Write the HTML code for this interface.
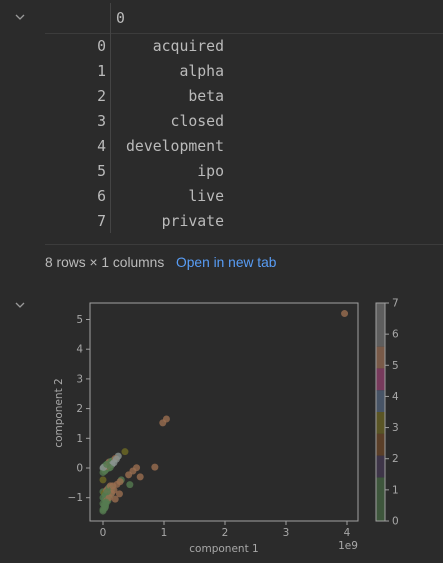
<!DOCTYPE html>
<html><head><meta charset="utf-8">
<style>
body{margin:0;background:#2b2b2b;width:443px;height:563px;overflow:hidden;font-family:"Liberation Sans",sans-serif;position:relative}
.mono{font-family:"DejaVu Sans Mono","Liberation Mono",monospace;font-size:14.8px;color:#bbbbbb;position:absolute}
.idx{right:337px;text-align:right}
.val{right:219px;text-align:right}
</style></head><body>
<svg style="position:absolute;left:14px;top:12px" width="12" height="10"><path d="M2 3 L6 7 L10 3" stroke="#9a9a9a" stroke-width="1.3" fill="none"/></svg>
<div style="position:absolute;left:45px;top:33px;width:398px;height:1px;background:#3c3c3c"></div>
<div style="position:absolute;left:110px;top:3px;width:1px;height:230px;background:#444"></div>
<div class="mono" style="left:116px;top:10px">0</div>
<div>
<div class="mono idx" style="top:38px">0</div><div class="mono val" style="top:38px">acquired</div>
<div class="mono idx" style="top:63px">1</div><div class="mono val" style="top:63px">alpha</div>
<div class="mono idx" style="top:88px">2</div><div class="mono val" style="top:88px">beta</div>
<div class="mono idx" style="top:113px">3</div><div class="mono val" style="top:113px">closed</div>
<div class="mono idx" style="top:138px">4</div><div class="mono val" style="top:138px">development</div>
<div class="mono idx" style="top:163px">5</div><div class="mono val" style="top:163px">ipo</div>
<div class="mono idx" style="top:188px">6</div><div class="mono val" style="top:188px">live</div>
<div class="mono idx" style="top:213px">7</div><div class="mono val" style="top:213px">private</div>
</div>
<div style="position:absolute;left:45px;top:244px;width:398px;height:1px;background:#3c3c3c"></div>
<div style="position:absolute;left:45px;top:255px;font-size:13.8px;color:#bbbbbb">8 rows × 1 columns</div>
<div style="position:absolute;left:176px;top:255px;font-size:13.8px;color:#589df6">Open in new tab</div>
<svg style="position:absolute;left:14px;top:300px" width="12" height="10"><path d="M2 3 L6 7 L10 3" stroke="#9a9a9a" stroke-width="1.3" fill="none"/></svg>
<svg id="chart" style="position:absolute;left:0;top:0" width="443" height="563"></svg>
<script>
const xs=[3.96,0.98,1.04,0.36,0.25,0.85,0.55,0.49,0.42,0.61,0.0,0.44,0.3,0.28,0.23,0.12,0.27,
0.0,0.02,0.05,0.08,0.1,0.13,0.16,0.2,0.05,0.1,0.15,0.0,0.03,0.07,0.12,0.18,0.22,0.01,0.06,
0.0,0.02,0.04,0.06,0.08,0.1,0.12,0.15,0.0,0.03,0.06,0.09,0.12,0.0,0.02,0.05,0.08,0.0,0.03,0.0,0.04,0.1,0.14,0.18,0.2,0.07,0.16,0.05];
const ys=[5.2,1.52,1.65,0.55,0.4,0.03,0.01,-0.1,-0.23,-0.3,-0.4,-0.56,-0.4,-0.46,-0.55,-0.68,-0.87,
0.0,0.05,0.1,0.15,0.2,0.22,0.25,0.32,-0.05,0.0,0.12,-0.15,-0.1,0.05,0.02,0.18,0.3,0.02,0.12,
-0.8,-0.85,-0.9,-0.75,-0.7,-0.65,-0.6,-0.7,-1.0,-1.05,-1.1,-0.95,-0.9,-1.2,-1.25,-1.2,-1.1,-1.4,-1.35,-1.45,-1.3,-1.0,-0.85,-0.75,-1.05,-0.8,-0.6,-1.15];
const cats=[5,5,5,3,7,5,5,5,5,5,3,0,0,5,5,5,5,
7,0,0,0,5,0,0,5,0,0,7,0,0,5,0,7,7,7,0,
0,3,0,5,5,0,5,0,0,0,5,0,0,0,0,0,0,0,0,0,0,5,5,5,5,0,5,0];
const xTicks=[0,1,2,3,4], yTicks=[-1,0,1,2,3,4,5], cbTicks=[0,1,2,3,4,5,6,7];
const cbBounds=[0,1.4,2.1,2.8,3.5,4.2,4.9,5.6,7];
const cbColors=['#3e563c','#3e3548','#5b3f28','#5a5525','#475466','#773a5c','#795a48','#5e5e5e'];
const ptColors={0:'#557a50',3:'#6e6a24',5:'#9a6e50',7:'#8a9490'};
const L=90,R=358,T=303,B=521;
const sx=v=>103+v*61, sy=v=>468-v*29.7;
const cbY=v=>B-(v/7)*(B-T);
const NS='http://www.w3.org/2000/svg', svg=document.getElementById('chart');
function mk(t,a){const e=document.createElementNS(NS,t);for(const k in a)e.setAttribute(k,a[k]);svg.appendChild(e);return e;}
for(let i=0;i<xs.length;i++){
 const c=mk('circle',{cx:sx(xs[i]),cy:sy(ys[i]),r:3.5,fill:ptColors[cats[i]],'fill-opacity':0.8});
 
 
}
const frame=mk('rect',{x:L,y:T,width:R-L,height:B-T,fill:'none',stroke:'#a0a0a0','stroke-width':1});


xTicks.forEach(v=>{
 mk('line',{x1:sx(v),x2:sx(v),y1:B,y2:B+4,stroke:'#a0a0a0'});
 const t=mk('text',{x:sx(v),y:B+15,'text-anchor':'middle','font-size':10.5,fill:'#a8a8a8','font-family':'DejaVu Sans, sans-serif'});
 t.textContent=v;
 
 
});
yTicks.forEach(v=>{
 mk('line',{x1:L-4,x2:L,y1:sy(v),y2:sy(v),stroke:'#a0a0a0'});
 const t=mk('text',{x:L-7,y:sy(v)+3.5,'text-anchor':'end','font-size':10.5,fill:'#a8a8a8','font-family':'DejaVu Sans, sans-serif'});
 t.textContent=v<0?'\u2212'+(-v):v;
 
 
});
let xl=mk('text',{x:224,y:552,'text-anchor':'middle','font-size':10.5,fill:'#a8a8a8','font-family':'DejaVu Sans, sans-serif'});
xl.textContent='component 1';


let ex=mk('text',{x:348,y:549,'text-anchor':'middle','font-size':10.5,fill:'#a8a8a8','font-family':'DejaVu Sans, sans-serif'});
ex.textContent='1e9';


let yl=mk('text',{x:0,y:0,'text-anchor':'middle','font-size':10.5,fill:'#a8a8a8','font-family':'DejaVu Sans, sans-serif',transform:'translate(62,413) rotate(-90)'});
yl.textContent='component 2';


for(let i=0;i<cbColors.length;i++){
 const r=mk('rect',{x:376,y:cbY(cbBounds[i+1]),width:9,height:cbY(cbBounds[i])-cbY(cbBounds[i+1]),fill:cbColors[i]});
 
 
}
const cbf=mk('rect',{x:376,y:T,width:9,height:B-T,fill:'none',stroke:'#a0a0a0'});


cbTicks.forEach(v=>{
 mk('line',{x1:385,x2:389,y1:cbY(v),y2:cbY(v),stroke:'#a0a0a0'});
 const t=mk('text',{x:392,y:cbY(v)+3.5,'font-size':10.5,fill:'#a8a8a8','font-family':'DejaVu Sans, sans-serif'});
 t.textContent=v;
 
 
});
</script>
</body></html>
